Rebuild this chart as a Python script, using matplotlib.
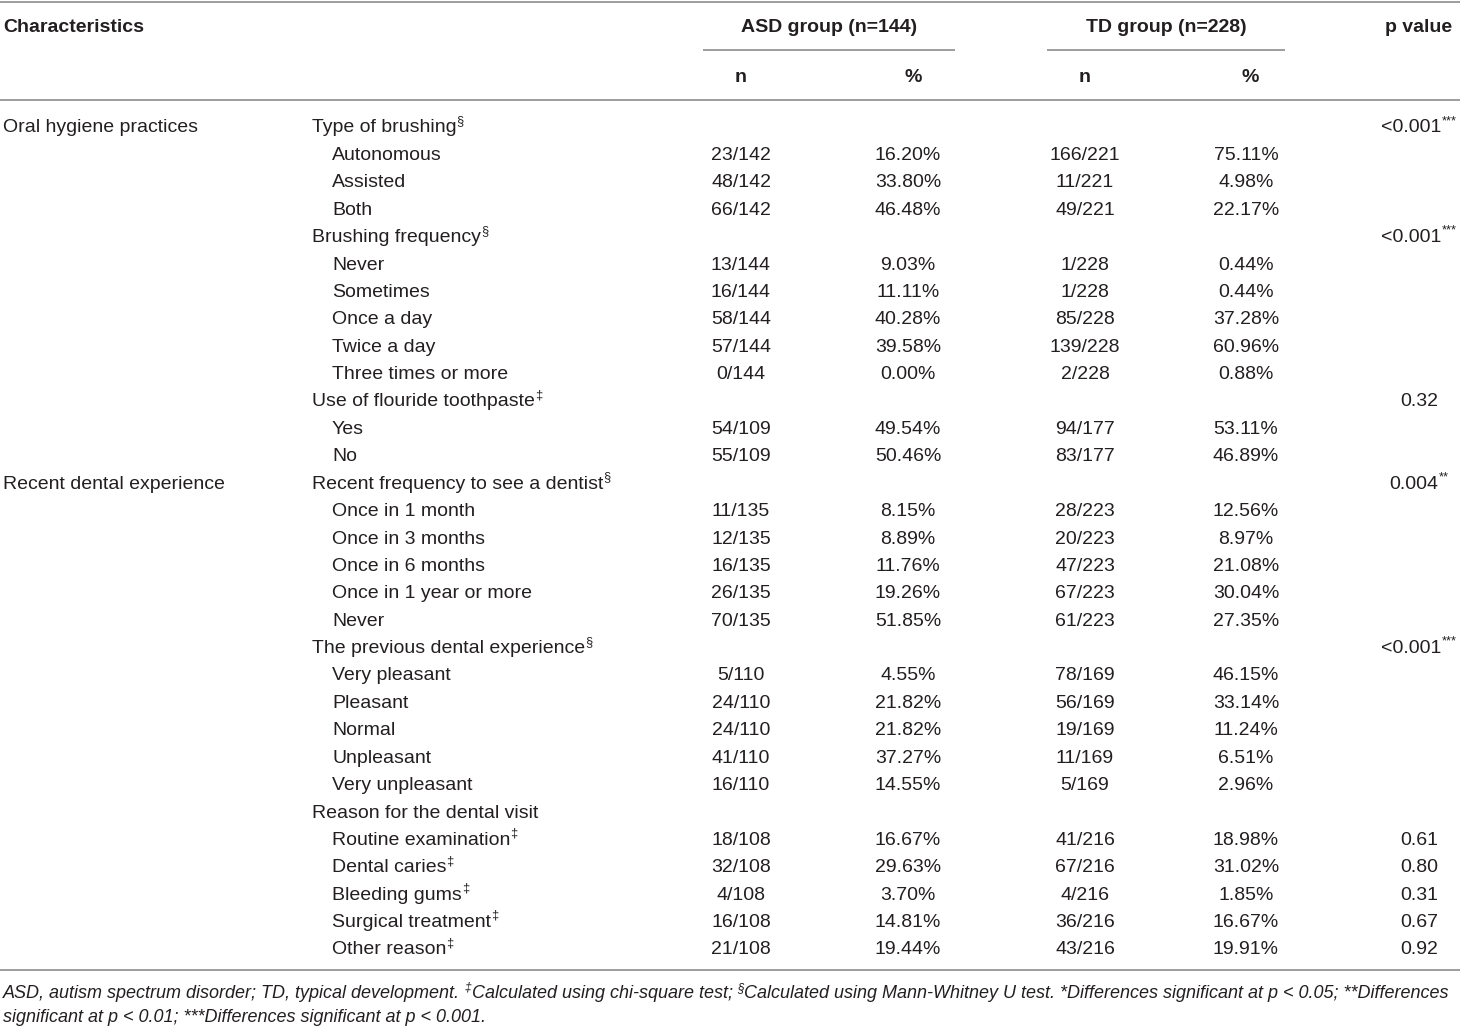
import matplotlib
matplotlib.use("Agg")
import matplotlib.pyplot as plt
from matplotlib import font_manager

names = {f.name for f in font_manager.fontManager.ttflist}
FAM = ['Liberation Sans Narrow', 'DejaVu Sans'] if 'Liberation Sans Narrow' in names else ['Liberation Sans', 'DejaVu Sans']
plt.rcParams['font.family'] = FAM

# ---------------- data ----------------
group_labels = ["Oral hygiene practices", "Recent dental experience"]
group_rows = [0, 13]
labels = [
    "Type of brushing", "Autonomous", "Assisted", "Both",
    "Brushing frequency", "Never", "Sometimes", "Once a day", "Twice a day", "Three times or more",
    "Use of flouride toothpaste", "Yes", "No",
    "Recent frequency to see a dentist", "Once in 1 month", "Once in 3 months", "Once in 6 months",
    "Once in 1 year or more", "Never",
    "The previous dental experience", "Very pleasant", "Pleasant", "Normal", "Unpleasant", "Very unpleasant",
    "Reason for the dental visit", "Routine examination", "Dental caries", "Bleeding gums",
    "Surgical treatment", "Other reason",
]
is_sub = [1, 0, 0, 0, 1, 0, 0, 0, 0, 0, 1, 0, 0, 1, 0, 0, 0, 0, 0, 1, 0, 0, 0, 0, 0, 1, 0, 0, 0, 0, 0]
marks = ["§", "", "", "", "§", "", "", "", "", "", "‡", "", "", "§", "", "", "", "", "", "§",
         "", "", "", "", "", "", "‡", "‡", "‡", "‡", "‡"]
asd_n = ["", "23/142", "48/142", "66/142", "", "13/144", "16/144", "58/144", "57/144", "0/144",
         "", "54/109", "55/109", "", "11/135", "12/135", "16/135", "26/135", "70/135",
         "", "5/110", "24/110", "24/110", "41/110", "16/110", "", "18/108", "32/108", "4/108", "16/108", "21/108"]
asd_pct = ["", "16.20%", "33.80%", "46.48%", "", "9.03%", "11.11%", "40.28%", "39.58%", "0.00%",
           "", "49.54%", "50.46%", "", "8.15%", "8.89%", "11.76%", "19.26%", "51.85%",
           "", "4.55%", "21.82%", "21.82%", "37.27%", "14.55%", "", "16.67%", "29.63%", "3.70%", "14.81%", "19.44%"]
td_n = ["", "166/221", "11/221", "49/221", "", "1/228", "1/228", "85/228", "139/228", "2/228",
        "", "94/177", "83/177", "", "28/223", "20/223", "47/223", "67/223", "61/223",
        "", "78/169", "56/169", "19/169", "11/169", "5/169", "", "41/216", "67/216", "4/216", "36/216", "43/216"]
td_pct = ["", "75.11%", "4.98%", "22.17%", "", "0.44%", "0.44%", "37.28%", "60.96%", "0.88%",
          "", "53.11%", "46.89%", "", "12.56%", "8.97%", "21.08%", "30.04%", "27.35%",
          "", "46.15%", "33.14%", "11.24%", "6.51%", "2.96%", "", "18.98%", "31.02%", "1.85%", "16.67%", "19.91%"]
p_vals = ["<0.001", "", "", "", "<0.001", "", "", "", "", "", "0.32", "", "", "0.004", "", "", "", "", "",
          "<0.001", "", "", "", "", "", "", "0.61", "0.80", "0.31", "0.67", "0.92"]
p_stars = ["***", "", "", "", "***", "", "", "", "", "", "", "", "", "**", "", "", "", "", "",
           "***", "", "", "", "", "", "", "", "", "", "", ""]
header_main = ["Characteristics", "ASD group (n=144)", "TD group (n=228)", "p value"]
header_sub = ["n", "%", "n", "%"]
foot1 = [("ASD, autism spectrum disorder; TD, typical development. ", 0), ("‡", 1),
         ("Calculated using chi-square test; ", 0), ("§", 1),
         ("Calculated using Mann-Whitney U test. *Differences significant at p < 0.05; **Differences", 0)]
foot2 = [("significant at p < 0.01; ***Differences significant at p < 0.001.", 0)]

# ---------------- layout ----------------
W, H = 1460, 1029
fig = plt.figure(figsize=(W / 100, H / 100), dpi=100)
ax = fig.add_axes([0, 0, 1, 1])
ax.set_xlim(0, W)
ax.set_ylim(H, 0)
ax.axis('off')
renderer = fig.canvas.get_renderer()

TXT = '#231f20'
LINE = '#8c8c8c'
FS = 14.0
SUPF = 0.66


def width_of(s, size, style='normal', weight='normal'):
    t = ax.text(0, 0, s, fontsize=size, style=style, weight=weight)
    w = t.get_window_extent(renderer).width
    t.remove()
    return w


def rich(x, y, segs, ha='left', size=FS, style='normal', weight='normal'):
    ws = [width_of(s, size * (SUPF if sup else 1), style, weight) for s, sup in segs]
    tot = sum(ws)
    start = x if ha == 'left' else (x - tot / 2 if ha == 'center' else x - tot)
    for (s, sup), w in zip(segs, ws):
        sz = size * (SUPF if sup else 1)
        yy = y - (size * 1.389 * 0.42 if sup else 0)
        ax.text(start, yy, s, fontsize=sz, style=style, weight=weight, color=TXT,
                ha='left', va='baseline')
        start += w


def hline(y, x0=0, x1=W, lw=1.2):
    ax.plot([x0, x1], [y, y], color=LINE, lw=lw, solid_capstyle='butt')

# rules
hline(2)
hline(100)
hline(970)
hline(50, 703, 955)
hline(50, 1047, 1285)

# columns
X_GROUP, X_SUB, X_ITEM = 3, 312, 332
X_ASD_N, X_ASD_P = 741, 908
X_TD_N, X_TD_P = 1085, 1246
X_P = 1419

BL = 6.5  # baseline offset from row centre

# headers
ax.text(X_GROUP, 26 + BL, header_main[0], fontsize=FS, weight='bold', color=TXT, ha='left', va='baseline')
ax.text(829, 26 + BL, header_main[1], fontsize=FS, weight='bold', color=TXT, ha='center', va='baseline')
ax.text(1166, 26 + BL, header_main[2], fontsize=FS, weight='bold', color=TXT, ha='center', va='baseline')
ax.text(X_P, 26 + BL, header_main[3], fontsize=FS, weight='bold', color=TXT, ha='center', va='baseline')
for xx, s in zip([X_ASD_N, X_ASD_P + 5, X_TD_N, X_TD_P + 4], header_sub):
    ax.text(xx, 76 + BL, s, fontsize=FS, weight='bold', color=TXT, ha='center', va='baseline')

# body
Y0, STEP = 126, 27.4
for g, r in zip(group_labels, group_rows):
    ax.text(X_GROUP, Y0 + r * STEP + BL, g, fontsize=FS, color=TXT, ha='left', va='baseline')

for i, lab in enumerate(labels):
    y = Y0 + i * STEP + BL
    segs = [(lab, 0)] + ([(marks[i], 1)] if marks[i] else [])
    rich(X_SUB if is_sub[i] else X_ITEM, y, segs)
    for xx, vals in ((X_ASD_N, asd_n), (X_ASD_P, asd_pct), (X_TD_N, td_n), (X_TD_P, td_pct)):
        if vals[i]:
            ax.text(xx, y, vals[i], fontsize=FS, color=TXT, ha='center', va='baseline')
    if p_vals[i]:
        segs = [(p_vals[i], 0)] + ([(p_stars[i], 1)] if p_stars[i] else [])
        rich(X_P, y, segs, ha='center')

# footnote
FFS = 12.95
rich(3, 993 + 5.5, foot1, size=FFS, style='italic')
rich(3, 1016 + 5.5, foot2, size=FFS, style='italic')

fig.savefig('out.png', dpi=100)
